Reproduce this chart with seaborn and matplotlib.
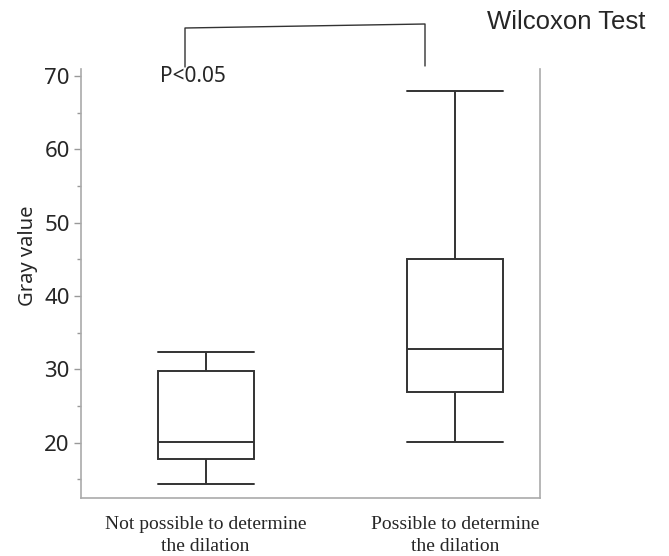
import numpy as np
import pandas as pd
import seaborn as sns
import matplotlib
matplotlib.use("Agg")
import matplotlib.pyplot as plt
from matplotlib.lines import Line2D
from matplotlib.ticker import MultipleLocator

categories = ["Not possible to determine\nthe dilation", "Possible to determine\nthe dilation"]
# five-number summaries: min, Q1, median, Q3, max
not_possible = [14.4, 17.8, 20.1, 29.7, 32.4]
possible = [20.1, 26.9, 32.7, 45.0, 67.9]
y_ticks = [20, 30, 40, 50, 60, 70]

df = pd.DataFrame({
    "group": [categories[0]] * len(not_possible) + [categories[1]] * len(possible),
    "value": not_possible + possible,
})

sns.set_style("white")
plt.rcParams['font.family'] = ['Noto Sans', 'DejaVu Sans']

fig = plt.figure(figsize=(6.69, 5.56), dpi=100)
ax = fig.add_axes([0.121, 0.1052, 0.686, 0.7712])

line_col = "#333333"
box_w = 0.385
sns.boxplot(data=df, x="group", y="value", order=categories, ax=ax,
            width=box_w, whis=np.inf, color="white", linecolor=line_col,
            linewidth=1.4, fill=True,
            boxprops=dict(facecolor="white", edgecolor=line_col))

# caps as wide as the boxes
for ln in ax.lines:
    xd = np.asarray(ln.get_xdata(), dtype=float)
    yd = np.asarray(ln.get_ydata(), dtype=float)
    if len(xd) == 2 and yd[0] == yd[1] and abs(xd[1] - xd[0]) < box_w * 0.75:
        c = xd.mean()
        ln.set_xdata([c - box_w / 2, c + box_w / 2])

ax.set_xlim(-0.5, 1.34)
ax.set_ylim(12.5, 71)
ax.set_yticks(y_ticks)
ax.yaxis.set_minor_locator(MultipleLocator(5))
ax.tick_params(axis="y", which="major", left=True, length=5, width=1, color="#999999",
               labelsize=16, pad=3)
ax.tick_params(axis="y", which="minor", left=True, length=3, width=1, color="#999999")
ax.tick_params(axis="x", bottom=False, pad=10)
ax.set_xticks(range(len(categories)))
ax.set_xticklabels(categories, fontfamily="Liberation Serif", fontsize=14,
                   linespacing=1.35)
ax.set_xlabel("")
ax.set_ylabel("Gray value", fontsize=14.5)
ax.yaxis.set_label_coords(-0.094, 0.563)

for side in ["left", "bottom", "right"]:
    ax.spines[side].set_visible(True)
    ax.spines[side].set_color("#aaaaaa")
    ax.spines[side].set_linewidth(1.2)
ax.spines["top"].set_visible(False)

ax.text(-0.185, 70, "P<0.05", fontsize=15, ha="left", va="center")

# significance bracket above the axes (figure coordinates)
W, H = 669, 556
def fx(px):
    return px / W
def fy(py):
    return 1 - py / H
bx = [fx(185), fx(185), fx(425), fx(425)]
by = [fy(67), fy(28), fy(24), fy(66)]
fig.add_artist(Line2D(bx, by, color=line_col, linewidth=1.0, transform=fig.transFigure))
fig.text(fx(487), fy(22), "Wilcoxon Test", fontsize=18.5, ha="left", va="center",
         family="Liberation Sans")

fig.savefig("out.png", dpi=100, facecolor="white")
